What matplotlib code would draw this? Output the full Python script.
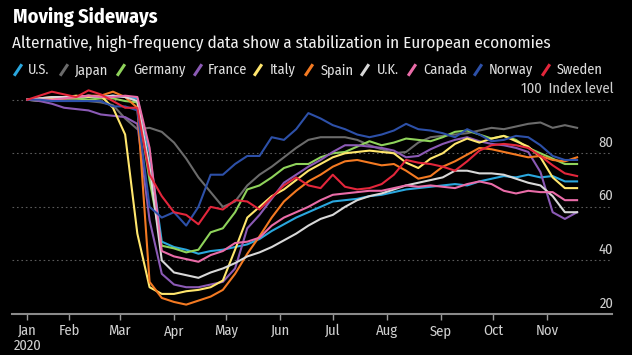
import numpy as np
import pandas as pd
import matplotlib
matplotlib.use("Agg")
import matplotlib.pyplot as plt
from matplotlib.lines import Line2D

plt.rcParams['font.family'] = ['Fira Sans Condensed', 'DejaVu Sans']

# weekly readings, Jan 8 .. Nov 18 2020
dates = pd.date_range("2020-01-08", "2020-11-18", freq="7D")

us = [100, 100, 100.5, 100.5, 100.5, 101, 101, 101.5, 101, 100.5,
      80, 47, 45, 44, 42.5, 43.5, 44, 45, 46, 48,
      51, 53.5, 56, 58, 60, 62, 62.5, 63, 64, 64.5,
      65.5, 66.5, 67, 67.5, 68, 68.5, 68, 69.5, 70.5, 71.5,
      71, 72, 71, 71.5, 69.5, 69.5]
japan = [100, 100.5, 100, 100, 100, 99.5, 99, 98, 93, 89,
         89.5, 88, 84, 78, 71, 65.5, 60, 62, 68, 72,
         75, 78.5, 82, 85, 86, 86, 86, 85, 83, 81.5,
         80, 80.5, 84, 86, 86.5, 87, 87.5, 88.5, 89.5, 89,
         90, 91, 91.5, 89.5, 90.5, 89.5]
germany = [100, 99.5, 100, 100.5, 100.5, 100, 100.5, 100.5, 99.5, 99,
           70, 45.5, 44.5, 43, 44, 50.5, 52, 58, 66.5, 68,
           71, 74.5, 76, 76, 78.5, 80, 80.5, 82.5, 84.5, 83,
           84, 85.5, 85, 84.5, 86, 88, 88.5, 87, 85.5, 86.5,
           85, 82, 80, 78, 76, 76]
france = [100, 99.5, 98.5, 97, 96.5, 96, 94.5, 94, 93.5, 91,
          55, 35, 31, 30, 30, 31, 32, 37, 52, 57,
          63, 69, 72, 75, 77.5, 80.5, 83, 83, 82.5, 82,
          81, 78.5, 79, 81.5, 83.5, 85, 86, 84.5, 83.5, 83,
          82, 80.5, 73, 58, 55.5, 58]
italy = [100, 100, 100.5, 101, 101.5, 101, 101.5, 97, 87, 50,
         30, 27.5, 27.5, 28.5, 29, 30, 32.5, 44, 56, 60,
         64, 66.5, 70, 73.5, 76, 78.5, 80, 80.5, 81, 80.5,
         80, 76.5, 74.5, 78, 80, 83.5, 85.5, 84, 85.5, 86.5,
         84.5, 82.5, 78.5, 71, 67, 67]
spain = [100, 100.5, 101, 100.5, 101, 101.5, 101.5, 103, 101, 97,
         32, 26, 24.5, 23.5, 25, 26.5, 29, 35, 42.5, 49,
         56, 62, 66, 69.5, 72, 75, 77, 77.5, 76.5, 75.5,
         76, 73.5, 70.5, 71.5, 75, 77, 79.5, 82, 81.5, 80.5,
         79.5, 78.5, 79, 77.5, 77, 78.5]
uk = [100, 100.5, 101, 101, 101, 101.5, 101, 101.5, 101, 99.5,
      75, 40, 35.5, 34.5, 33.5, 35.5, 37, 39, 41.5, 43,
      45, 47.5, 50, 53, 55.5, 57, 60, 62.5, 64, 65,
      66.5, 68, 69, 70, 71, 73.5, 73.5, 72.5, 72.5, 72,
      70.5, 69, 68, 64, 58, 58]
canada = [100, 100, 100, 100.5, 101, 101.5, 101, 101, 101.5, 101,
          82, 43.5, 41.5, 40.5, 39.5, 42, 43.5, 46.5, 47, 48.5,
          53, 56, 58, 60, 62.5, 64.5, 65, 65.5, 66, 66,
          67, 68, 67.5, 68, 67.5, 67, 68.5, 69.5, 68.5, 66,
          65, 66, 65.5, 65.5, 62.5, 62.5]
norway = [100, 100, 99.5, 99.5, 99.5, 99.5, 99.5, 97.5, 97.5, 96,
          60, 56, 58, 53, 60, 72, 72, 76, 79, 79,
          86, 85, 89, 95, 93, 90.5, 89, 87, 86, 87,
          88.5, 91, 89, 88.5, 87.5, 86, 89, 87, 84.5, 85,
          86.5, 86, 83, 79, 77.5, 77.5]
sweden = [100, 101.5, 103, 102, 101, 103.5, 102, 99.5, 97, 97,
          72, 64, 58, 57, 53.5, 60, 59, 62.5, 62, 59,
          63.5, 68, 71, 68, 67, 72, 67.5, 66.5, 67, 68.5,
          72, 77.5, 76.5, 76, 75, 73.5, 77, 81, 83, 83.5,
          83, 82, 79, 75.5, 72.5, 71.5]

names = ["U.S.", "Japan", "Germany", "France", "Italy", "Spain", "U.K.", "Canada", "Norway", "Sweden"]
series = [us, japan, germany, france, italy, spain, uk, canada, norway, sweden]
colors = ["#2aa7de", "#6b6b6b", "#8fd35b", "#8b5ab5", "#ffe66d", "#f47a22",
          "#d8d8d8", "#ea6ca8", "#2d50a8", "#e3263b"]

yticks = [20, 40, 60, 80, 100]
month_ticks = [dates[0]] + list(pd.date_range("2020-02-01", "2020-11-01", freq="MS"))
month_labels = ["Jan\n2020", "Feb", "Mar", "Apr", "May", "Jun", "Jul", "Aug", "Sep", "Oct", "Nov"]

fig = plt.figure(figsize=(6.32, 3.55), dpi=100, facecolor="black")
ax = fig.add_axes([12 / 632, 41 / 355, 600 / 632, 225 / 355])
ax.set_facecolor("black")

for vals, c in zip(series, colors):
    ax.plot(dates, vals, color=c, lw=1.5, solid_joinstyle="round")

ax.set_ylim(20, 104)
ax.set_xlim(pd.Timestamp("2019-12-30 04:00"), pd.Timestamp("2020-12-08"))

ax.set_yticks(yticks)
ax.tick_params(axis="y", length=0, labelleft=False)
ax.grid(axis="y", color="#5a5a5a", lw=0.8, ls=(0, (1.5, 2.5)))
for v in yticks:
    lab = "100  Index level" if v == 100 else str(v)
    ax.annotate(lab, xy=(1.0, v), xycoords=ax.get_yaxis_transform(),
                xytext=(1, 2.5), textcoords="offset points",
                ha="right", va="bottom", color="#d0d0d0", fontsize=10.5)

ax.set_xticks(month_ticks)
ax.set_xticklabels(month_labels, ha="center", linespacing=1.1)
ax.tick_params(axis="x", colors="#9a9a9a", length=4, width=1, labelcolor="#d0d0d0",
               labelsize=10.5, pad=3)
for s in ["top", "right", "left"]:
    ax.spines[s].set_visible(False)
ax.spines["bottom"].set_color("#8a8a8a")
ax.spines["bottom"].set_linewidth(1.5)

title = fig.text(13 / 632, 1 - 17 / 355, "Moving Sideways", color="white", fontsize=12.5,
                 fontweight="bold", va="center", ha="left")
sub = fig.text(12 / 632, 1 - 43 / 355,
               "Alternative, high-frequency data show a stabilization in European economies",
               color="#f0f0f0", fontsize=12, va="center", ha="left")

# scale title texts to the widths seen in the reference
renderer = fig.canvas.get_renderer()
for t, target in [(title, 144), (sub, 541)]:
    w = t.get_window_extent(renderer).width
    t.set_fontsize(t.get_fontsize() * target / w)

# legend with slash markers
slash_x = [14, 60, 117, 194, 254, 305, 361, 408, 474, 542]
text_x = [28, 74, 133, 208, 270, 321, 377, 423, 489, 557]
leg_y = 1 - 70 / 355
for sx, tx, name, c in zip(slash_x, text_x, names, colors):
    fig.add_artist(Line2D([(sx + 1) / 632, (sx + 7) / 632], [leg_y - 4.5 / 355, leg_y + 4.5 / 355],
                          color=c, lw=2.2, transform=fig.transFigure))
    fig.text(tx / 632, leg_y, name, color="#e0e0e0", fontsize=10.3, va="center", ha="left")

fig.savefig("out.png", dpi=100, facecolor="black")
